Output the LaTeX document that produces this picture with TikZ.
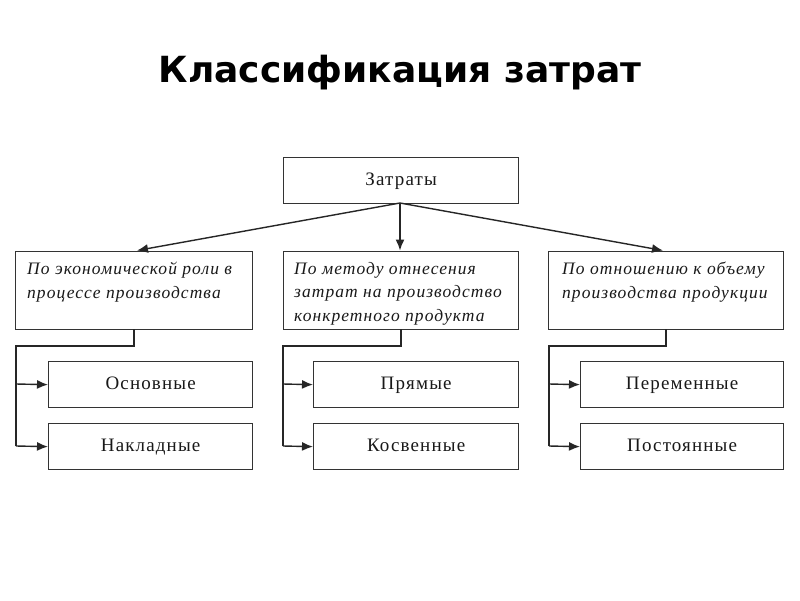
\documentclass[tikz,border=0pt]{standalone}
\usepackage{fontspec}
\setmainfont{Liberation Serif}
\newfontfamily\titlefont{DejaVu Sans}
\newfontfamily\boxfont[LetterSpace=6]{Liberation Serif}
\usetikzlibrary{arrows.meta}
\begin{document}
\begin{tikzpicture}[x=1pt,y=-1pt,
  box/.style={draw=black!80,line width=1.3pt,inner sep=0pt,anchor=north west},
  lbl/.style={font=\boxfont\fontsize{19}{22}\selectfont,text=black!90,text height=13pt,text depth=4pt,inner sep=0pt},
  cat/.style={font=\boxfont\itshape\fontsize{17.5}{23.5}\selectfont,text=black!90,align=left,anchor=north west,inner sep=0pt},
  conn/.style={draw=black!85,line width=1.4pt},
  arr/.style={conn,-{Latex[length=11pt,width=9pt]}}]
\useasboundingbox (0,0) rectangle (800,600);
\fill[white] (0,0) rectangle (800,600);
\node[font=\titlefont\bfseries\fontsize{36}{40}\selectfont] (title) at (400,73) {Классификация затрат};
% top
\node[box,minimum width=235pt,minimum height=46pt] (top) at (283,157) {};
\node[lbl] at (top.center) {Затраты};
% categories
\node[box,minimum width=237pt,minimum height=78pt] (c1) at (15,251) {};
\node[box,minimum width=235pt,minimum height=78pt] (c2) at (283,251) {};
\node[box,minimum width=235pt,minimum height=78pt] (c3) at (548,251) {};
\node[cat] (t1) at (27,262) {По экономической роли в\\процессе производства};
\node[cat] (t2) at (294,262) {По методу отнесения\\затрат на производство\\конкретного продукта};
\node[cat] (t3) at (562,262) {По отношению к объему\\производства продукции};
% children
\node[box,minimum width=204pt,minimum height=46pt] (a1) at (48,361) {};
\node[box,minimum width=204pt,minimum height=46pt] (a2) at (48,423) {};
\node[box,minimum width=205pt,minimum height=46pt] (b1) at (313,361) {};
\node[box,minimum width=205pt,minimum height=46pt] (b2) at (313,423) {};
\node[box,minimum width=203pt,minimum height=46pt] (d1) at (580,361) {};
\node[box,minimum width=203pt,minimum height=46pt] (d2) at (580,423) {};
\node[lbl] at (a1.center) {Основные};
\node[lbl] at (a2.center) {Накладные};
\node[lbl] at (b1.center) {Прямые};
\node[lbl] at (b2.center) {Косвенные};
\node[lbl] at (d1.center) {Переменные};
\node[lbl] at (d2.center) {Постоянные};
% top arrows
\coordinate (ts) at (400,203);
\draw[arr] (ts) -- (137,250.5);
\draw[arr] (ts) -- (400,250.5);
\draw[arr] (ts) -- (663,250.5);
% branch connectors
\draw[conn] (134,329) |- (16,346) -- (16,446);
\draw[arr] (16,384) -- (a1.west);
\draw[arr] (16,446) -- (a2.west);
\draw[conn] (401,329) |- (283,346) -- (283,446);
\draw[arr] (283,384) -- (b1.west);
\draw[arr] (283,446) -- (b2.west);
\draw[conn] (666,329) |- (549,346) -- (549,446);
\draw[arr] (549,384) -- (d1.west);
\draw[arr] (549,446) -- (d2.west);
\end{tikzpicture}
\end{document}
